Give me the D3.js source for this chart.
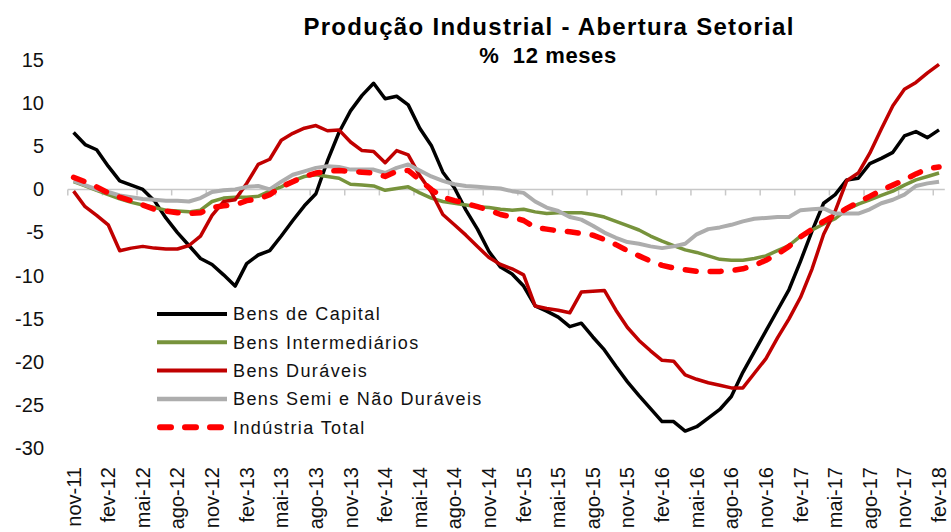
<!DOCTYPE html>
<html>
<head>
<meta charset="utf-8">
<script src="https://cdn.jsdelivr.net/npm/d3@7/dist/d3.min.js"></script>
<style>
  html, body { margin: 0; padding: 0; background: #fff; }
  #chart { width: 951px; height: 532px; overflow: hidden; }
  text { font-family: "Liberation Sans", Arial, sans-serif; }
</style>
</head>
<body>
<div id="chart"></div>
<script>
const months = [
    "nov-11","dez-11",
    "jan-12","fev-12","mar-12","abr-12","mai-12","jun-12","jul-12","ago-12","set-12","out-12","nov-12","dez-12",
    "jan-13","fev-13","mar-13","abr-13","mai-13","jun-13","jul-13","ago-13","set-13","out-13","nov-13","dez-13",
    "jan-14","fev-14","mar-14","abr-14","mai-14","jun-14","jul-14","ago-14","set-14","out-14","nov-14","dez-14",
    "jan-15","fev-15","mar-15","abr-15","mai-15","jun-15","jul-15","ago-15","set-15","out-15","nov-15","dez-15",
    "jan-16","fev-16","mar-16","abr-16","mai-16","jun-16","jul-16","ago-16","set-16","out-16","nov-16","dez-16",
    "jan-17","fev-17","mar-17","abr-17","mai-17","jun-17","jul-17","ago-17","set-17","out-17","nov-17","dez-17",
    "jan-18","fev-18"
];

const bensCapital = [
    6.6, 5.2, 4.6, 2.7, 1.0, 0.5, 0.0, -1.3, -3.3, -5.0, -6.5, -8.0, -8.7, -9.9, -11.2, -8.6,
    -7.6, -7.1, -5.4, -3.6, -1.9, -0.5, 3.3, 6.6, 9.1, 10.9, 12.3, 10.5, 10.8, 9.8, 7.1, 5.1,
    2.0, 0.2, -2.4, -4.6, -7.2, -9.0, -9.8, -11.2, -13.5, -14.1, -14.8, -15.9, -15.5, -17.1, -18.6, -20.5,
    -22.3, -23.9, -25.4, -26.9, -26.9, -28.0, -27.5, -26.5, -25.5, -24.0, -21.2, -18.8, -16.4, -14.0, -11.6, -8.3,
    -4.8, -1.6, -0.6, 1.1, 1.3, 3.0, 3.6, 4.3, 6.2, 6.7, 6.0, 6.9
];

const bensIntermediarios = [
    0.9, 0.4, -0.1, -0.6, -1.1, -1.5, -1.8, -2.1, -2.4, -2.5, -2.6, -2.4, -1.4, -1.0, -0.9, -0.9,
    -0.8, -0.2, 0.3, 1.0, 1.5, 1.7, 1.5, 1.3, 0.6, 0.5, 0.4, -0.1, 0.1, 0.3, -0.4, -1.0,
    -1.4, -1.6, -1.8, -2.0, -2.1, -2.3, -2.4, -2.3, -2.6, -2.8, -2.7, -2.7, -2.7, -2.9, -3.2, -3.7,
    -4.2, -4.7, -5.4, -6.0, -6.5, -7.0, -7.3, -7.7, -8.1, -8.2, -8.2, -8.0, -7.7, -7.1, -6.5, -5.4,
    -4.7, -4.0, -3.4, -2.3, -1.7, -1.2, -0.7, -0.2, 0.5, 1.1, 1.5, 1.9
];

const bensDuraveis = [
    -0.2, -2.0, -3.0, -4.1, -7.1, -6.8, -6.6, -6.8, -6.9, -6.9, -6.5, -5.4, -3.0, -1.4, -1.2, 0.7,
    2.9, 3.5, 5.7, 6.5, 7.1, 7.4, 6.8, 6.9, 5.5, 4.5, 4.4, 3.1, 4.5, 4.0, 1.6, -0.3,
    -2.9, -4.1, -5.3, -6.6, -7.9, -8.7, -9.2, -9.9, -13.5, -13.8, -14.0, -14.3, -11.9, -11.8, -11.7, -14.0,
    -16.0, -17.5, -18.7, -19.8, -19.9, -21.5, -22.0, -22.4, -22.7, -23.0, -23.0, -21.3, -19.6, -17.2, -15.0, -12.5,
    -9.2, -5.2, -2.5, 1.0, 1.9, 4.2, 7.0, 9.7, 11.6, 12.4, 13.5, 14.5
];

const bensSemiNaoDuraveis = [
    1.0, 0.5, 0.0, -0.3, -0.7, -0.9, -1.1, -1.2, -1.3, -1.3, -1.4, -1.0, -0.3, -0.1, 0.0, 0.3,
    0.4, 0.0, 0.9, 1.7, 2.1, 2.5, 2.7, 2.6, 2.3, 2.3, 2.3, 1.9, 2.5, 2.9, 2.2, 1.5,
    1.0, 0.6, 0.4, 0.3, 0.2, 0.1, -0.2, -0.4, -1.4, -2.1, -2.5, -3.2, -3.5, -4.2, -5.0, -5.6,
    -6.1, -6.3, -6.6, -6.8, -6.6, -6.3, -5.2, -4.6, -4.4, -4.1, -3.7, -3.4, -3.3, -3.2, -3.2, -2.4,
    -2.3, -2.2, -2.8, -2.8, -2.8, -2.3, -1.6, -1.2, -0.6, 0.4, 0.7, 0.9
];

const industriaTotal = [
    1.4, 0.9, 0.3, -0.4, -0.9, -1.3, -1.8, -2.3, -2.5, -2.7, -2.8, -2.7, -2.1, -1.9, -1.8, -1.3,
    -1.1, -0.6, 0.3, 0.9, 1.5, 1.9, 2.1, 2.2, 2.1, 2.0, 1.9, 1.5, 2.1, 2.2, 1.1, 0.0,
    -0.9, -1.3, -1.6, -2.0, -2.4, -2.9, -3.2, -3.6, -4.4, -4.6, -4.8, -4.9, -5.1, -5.3, -5.8, -6.4,
    -7.1, -7.7, -8.3, -8.8, -9.1, -9.3, -9.5, -9.5, -9.5, -9.4, -9.2, -8.8, -8.2, -7.5, -6.6, -5.5,
    -4.6, -3.7, -3.0, -2.2, -1.5, -0.8, -0.1, 0.5, 1.1, 1.8, 2.4, 2.6
];

const yTicks = [15, 10, 5, 0, -5, -10, -15, -20, -25, -30];
const seriesNames = ["Bens de Capital", "Bens Intermediários", "Bens Duráveis", "Bens Semi e Não Duráveis", "Indústria Total"];
const seriesValues = [bensCapital, bensIntermediarios, bensDuraveis, bensSemiNaoDuraveis, industriaTotal];

const lineStyles = [
    { color: "#000000", width: 3.5, dash: null },
    { color: "#77933C", width: 3.5, dash: null },
    { color: "#C00000", width: 3.5, dash: null },
    { color: "#ADADAD", width: 4, dash: null },
    { color: "#FF0000", width: 5.5, dash: "11,14" }
];

const chart = (() => {
    const width = 951, height = 532;
    const svg = d3.select("#chart").append("svg")
        .attr("width", width)
        .attr("height", height)
        .attr("viewBox", `0 0 ${width} ${height}`)
        .style("background", "#fff");

    const x = d3.scaleBand().domain(months).range([67.8, 944.8]).padding(0);
    const cx = m => x(m) + x.bandwidth() / 2;
    const y = d3.scaleLinear().domain([-30, 15]).range([448.3, 60]);
    const tickMonths = months.filter((m, i) => i % 3 === 0);

    svg.append("text")
        .attr("x", 549).attr("y", 35)
        .attr("text-anchor", "middle")
        .style("font-size", "24px").style("font-weight", "bold").style("letter-spacing", "1.3px")
        .text("Produção Industrial - Abertura Setorial");
    svg.append("text")
        .attr("x", 548).attr("y", 63)
        .attr("text-anchor", "middle")
        .style("font-size", "22px").style("font-weight", "bold").style("letter-spacing", "0.6px")
        .style("white-space", "pre")
        .text("%  12 meses");

    const yAxis = svg.append("g")
        .attr("transform", "translate(44,0)")
        .call(d3.axisLeft(y).tickValues(yTicks).tickSize(0).tickPadding(0).tickFormat(d => String(d)));
    yAxis.select(".domain").remove();
    yAxis.selectAll("text")
        .attr("fill", "#111")
        .style("font-size", "20px")
        .style("font-family", "'Liberation Sans', Arial, sans-serif");

    const xAxis = svg.append("g").attr("class", "x-axis");
    xAxis.append("line")
        .attr("x1", x.range()[0]).attr("x2", x.range()[1])
        .attr("y1", y(0)).attr("y2", y(0))
        .attr("stroke", "#C8C8C8").attr("stroke-width", 1.5);
    xAxis.selectAll(".tick-mark").data(tickMonths).enter().append("line")
        .attr("class", "tick-mark")
        .attr("x1", d => x(d)).attr("x2", d => x(d))
        .attr("y1", y(0)).attr("y2", y(0) + 6)
        .attr("stroke", "#C8C8C8").attr("stroke-width", 1.5);
    xAxis.selectAll(".tick-label").data(tickMonths).enter().append("text")
        .attr("class", "tick-label")
        .attr("transform", d => `translate(${cx(d)},467) rotate(-90)`)
        .attr("dy", "0.35em")
        .attr("text-anchor", "end")
        .attr("fill", "#111")
        .style("font-size", "20px")
        .text(d => d);

    const line = d3.line().x((d, i) => cx(months[i])).y(d => y(d));
    const series = seriesNames.map((name, i) => ({ name, values: seriesValues[i], style: lineStyles[i] }));

    svg.selectAll(".series").data(series).enter().append("path")
        .attr("class", "series")
        .attr("fill", "none")
        .attr("stroke", d => d.style.color)
        .attr("stroke-width", d => d.style.width)
        .attr("stroke-linejoin", "round")
        .attr("stroke-linecap", d => d.style.dash ? "round" : "butt")
        .attr("stroke-dasharray", d => d.style.dash)
        .attr("d", d => line(d.values));

    const legend = svg.append("g").attr("transform", "translate(157,314)");
    const item = legend.selectAll(".legend-item").data(series).enter().append("g")
        .attr("class", "legend-item")
        .attr("transform", (d, i) => `translate(0,${i * 28.3})`);
    item.append("line")
        .attr("x1", d => d.style.dash ? 3 : 0).attr("x2", d => d.style.dash ? 67 : 70)
        .attr("stroke", d => d.style.color)
        .attr("stroke-width", d => d.style.width + 0.5)
        .attr("stroke-linecap", d => d.style.dash ? "round" : "butt")
        .attr("stroke-dasharray", d => d.style.dash);
    item.append("text")
        .attr("x", 76).attr("dy", "0.35em")
        .attr("fill", "#111")
        .style("font-size", "18px").style("letter-spacing", "1.4px")
        .text(d => d.name);

    return svg;
})();
</script>
</body>
</html>
